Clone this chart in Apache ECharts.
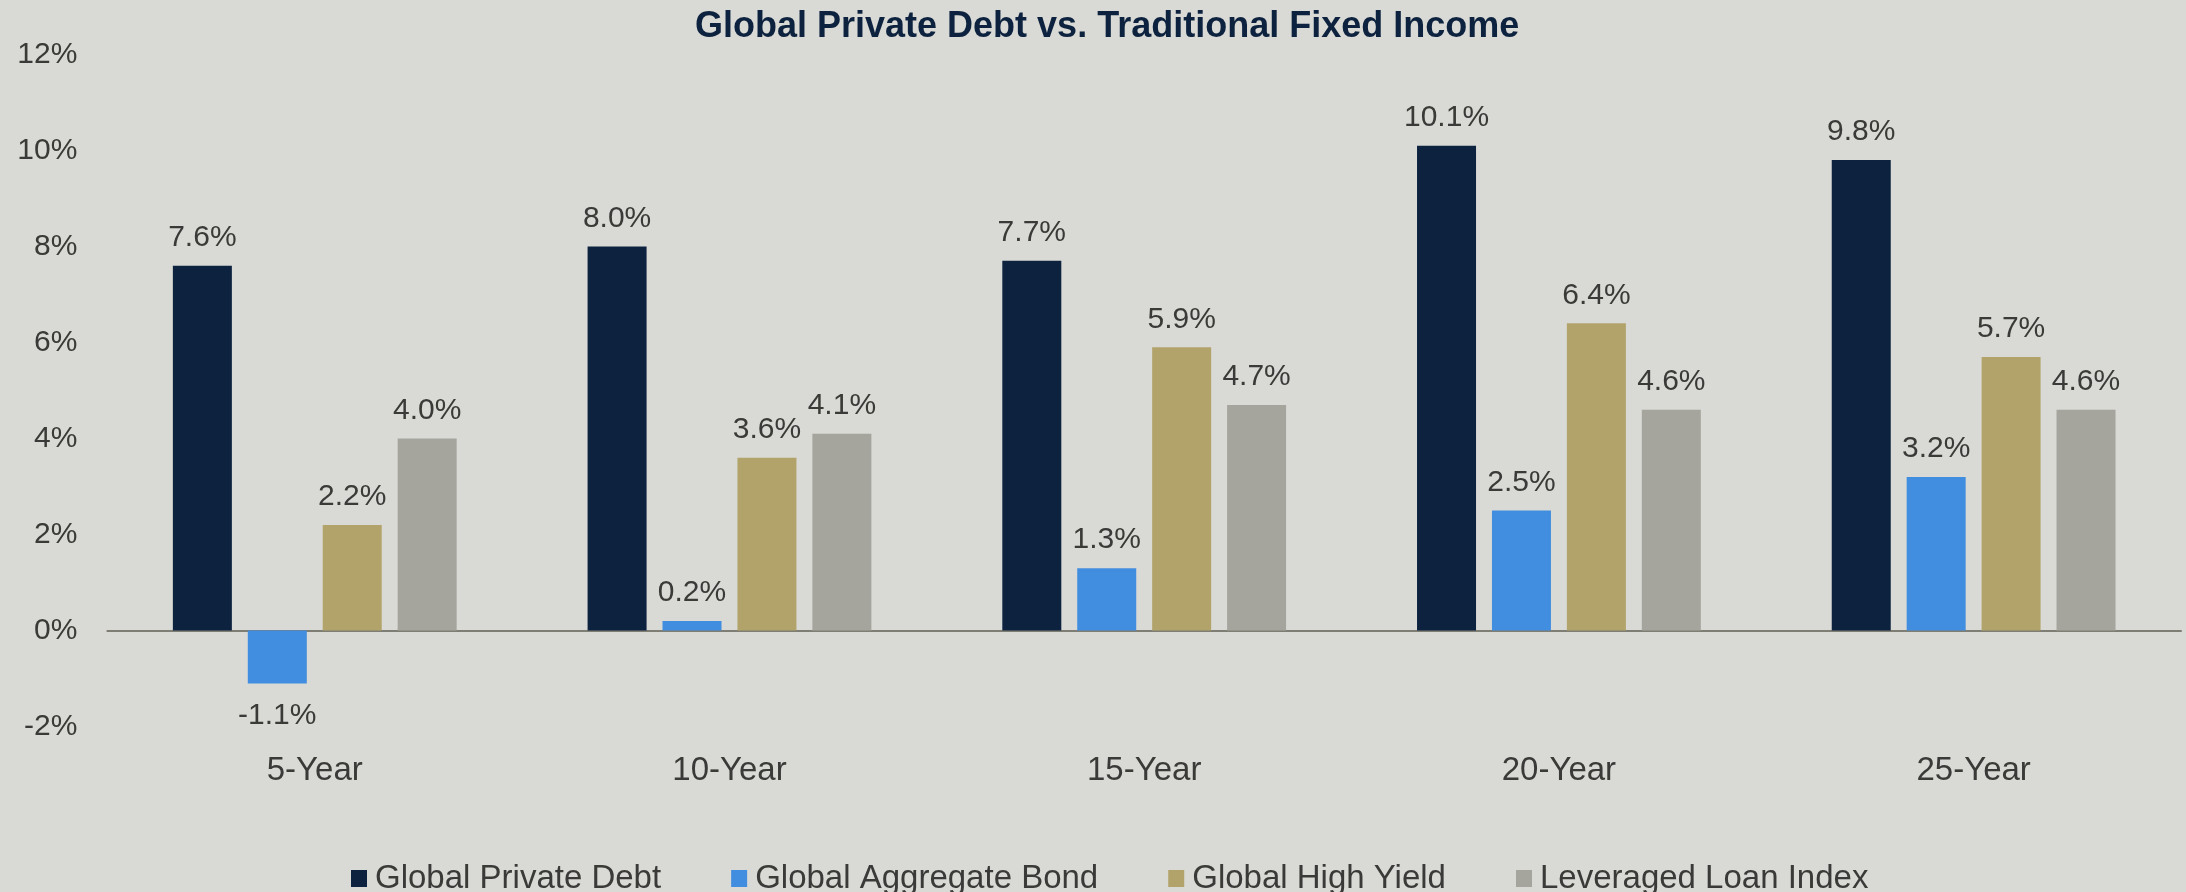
<!DOCTYPE html>
<html>
<head>
<meta charset="utf-8">
<title>Global Private Debt vs. Traditional Fixed Income</title>
<script src="https://cdn.jsdelivr.net/npm/echarts@6/dist/echarts.min.js"></script>
<style>
  html, body { margin: 0; padding: 0; background: #d9dad5; }
  #chart { width: 2186px; height: 892px; }
</style>
</head>
<body>
<div id="chart"></div>
<script>
// Annualized returns by horizon (%)
const categories = ['5-Year', '10-Year', '15-Year', '20-Year', '25-Year'];
const seriesNames = ['Global Private Debt', 'Global Aggregate Bond', 'Global High Yield', 'Leveraged Loan Index'];
const privateDebt = [7.6, 8.0, 7.7, 10.1, 9.8];
const aggregateBond = [-1.1, 0.2, 1.3, 2.5, 3.2];
const highYield = [2.2, 3.6, 5.9, 6.4, 5.7];
const leveragedLoan = [4.0, 4.1, 4.7, 4.6, 4.6];
const yMin = -2;
const yMax = 12;
const yStep = 2;

const colors = ['#0d223f', '#418ddf', '#b2a36b', '#a5a59d'];
const FONT = '"Liberation Sans", Arial, Helvetica, sans-serif';
const TEXT = '#3a3a38';

// negative values carry their label beneath the bar
function withLabels(values) {
  return values.map(v => ({
    value: v,
    label: v < 0 ? { position: 'bottom', distance: 17 } : { position: 'top' }
  }));
}

function barSeries(name, values, color) {
  return {
    name: name,
    type: 'bar',
    data: withLabels(values),
    barWidth: 59,
    barGap: '27%',
    itemStyle: { color: color },
    label: {
      show: true,
      distance: 13,
      formatter: p => p.value.toFixed(1) + '%',
      color: TEXT,
      fontFamily: FONT,
      fontSize: 30
    },
    emphasis: { disabled: true }
  };
}

const chart = echarts.init(document.getElementById('chart'), null, { renderer: 'canvas' });

chart.setOption({
  backgroundColor: '#d9dad5',
  animation: false,
  color: colors,
  title: {
    text: 'Global Private Debt vs. Traditional Fixed Income',
    left: 690,
    top: 4,
    textStyle: {
      color: '#0d223f',
      fontFamily: FONT,
      fontWeight: 'bold',
      fontSize: 36
    }
  },
  legend: {
    left: 346,
    top: 857,
    icon: 'rect',
    itemWidth: 16,
    itemHeight: 17,
    itemGap: 70,
    data: seriesNames,
    textStyle: {
      color: TEXT,
      fontFamily: FONT,
      fontSize: 33,
      padding: [0, 0, 0, 3]
    }
  },
  grid: {
    left: 107.4,
    right: 5,
    top: 54.4,
    bottom: 892 - 726.6,
    containLabel: false
  },
  xAxis: {
    type: 'category',
    data: categories,
    axisLine: { show: true, onZero: true, lineStyle: { color: '#7e7e74', width: 2 } },
    axisTick: { show: false },
    splitLine: { show: false },
    axisLabel: {
      margin: 28,
      color: TEXT,
      fontFamily: FONT,
      fontSize: 33
    }
  },
  yAxis: {
    type: 'value',
    min: yMin,
    max: yMax,
    interval: yStep,
    axisLine: { show: false },
    axisTick: { show: false },
    splitLine: { show: false },
    axisLabel: {
      margin: 30,
      color: TEXT,
      fontFamily: FONT,
      fontSize: 30,
      formatter: v => v + '%'
    }
  },
  series: [
    barSeries(seriesNames[0], privateDebt, colors[0]),
    barSeries(seriesNames[1], aggregateBond, colors[1]),
    barSeries(seriesNames[2], highYield, colors[2]),
    barSeries(seriesNames[3], leveragedLoan, colors[3])
  ]
});
</script>
</body>
</html>
